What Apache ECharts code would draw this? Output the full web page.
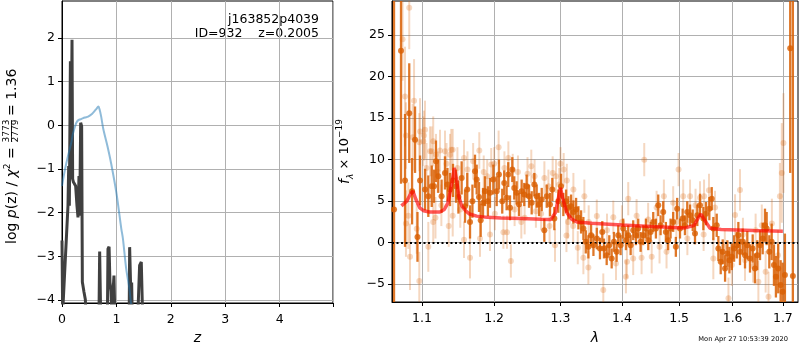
<!DOCTYPE html>
<html>
<head>
<meta charset="utf-8">
<script src="https://cdn.jsdelivr.net/npm/echarts@6.0.0/dist/echarts.min.js"></script>
<style>
  html, body { margin: 0; padding: 0; background: #fff; }
  #chart { width: 800px; height: 350px; }
</style>
</head>
<body>
<div id="chart"></div>
<script>
// ---- left panel: log p(z) (dark) and chi2 curve (blue)
const pzZ = [0.0, 0.012, 0.02, 0.11, 0.123, 0.135, 0.154, 0.165, 0.184, 0.196, 0.21, 0.251, 0.275, 0.294, 0.312, 0.325, 0.343, 0.361, 0.374, 0.404, 0.429, 0.44, 0.68, 0.692, 0.71, 0.835, 0.845, 0.865, 0.881, 0.9, 0.915, 0.955, 0.97, 1.235, 1.243, 1.261, 1.28, 1.29, 1.395, 1.426, 1.457, 1.48, 4.98]
const pzLog = [-2.64, -4.3, -4.3, -1.84, -0.93, -1.84, 1.47, -1.23, 1.96, -1.23, -1.3, -1.39, -1.84, -2.11, -1.16, -2.07, 0.06, -0.02, -3.59, -3.82, -3.99, -4.3, -4.3, -2.89, -4.3, -4.3, -2.83, -2.78, -3.59, -3.8, -4.3, -3.44, -4.3, -4.3, -2.79, -3.67, -3.6, -4.3, -4.3, -3.21, -3.13, -4.3, -4.3]
const chiZ = [0, 0.05, 0.11, 0.17, 0.2, 0.26, 0.3, 0.36, 0.42, 0.48, 0.55, 0.62, 0.67, 0.69, 0.72, 0.76, 0.84, 0.906, 1.0, 1.09, 1.12, 1.18, 1.24, 1.26, 1.3]
const chiLog = [-1.39, -1.04, -0.7, -0.4, -0.2, 0.05, 0.12, 0.15, 0.18, 0.2, 0.26, 0.36, 0.43, 0.37, 0.2, -0.09, -0.5, -0.89, -1.55, -2.37, -2.6, -3.29, -3.75, -4.0, -4.4]

const zTicks = [0, 1, 2, 3, 4]
const pzTicks = [-4, -3, -2, -1, 0, 1, 2]

// ---- right panel: spectrum (lambda in micron, flux in 1e-19)
const darkLam = [1.0635, 1.0725, 1.0777, 1.0832, 1.0869, 1.0908, 1.0940, 1.0974, 1.1040, 1.1084, 1.1130, 1.1160, 1.1187, 1.1218, 1.1263, 1.1309, 1.1343, 1.1378, 1.1419, 1.1460, 1.1494, 1.1539, 1.1586, 1.1617, 1.1656, 1.1690, 1.1726, 1.1750, 1.1783, 1.1807, 1.1840, 1.1868, 1.1910, 1.1940, 1.1988, 1.2037, 1.2070, 1.2118, 1.2147, 1.2182, 1.2206, 1.2232, 1.2266, 1.2295, 1.2330, 1.2365, 1.2405, 1.2444, 1.2480, 1.2516, 1.2556, 1.2596, 1.2632, 1.2668, 1.2709, 1.2749, 1.2786, 1.2837, 1.2873, 1.2904, 1.2966, 1.3009, 1.3045, 1.3088, 1.3124, 1.3167, 1.3204, 1.3247, 1.3284, 1.3327, 1.3364, 1.3403, 1.3445, 1.3489, 1.3527, 1.3582, 1.3634, 1.3672, 1.3700, 1.3745, 1.3788, 1.3828, 1.3866, 1.3911, 1.3938, 1.3978, 1.4022, 1.4068, 1.4107, 1.4148, 1.4192, 1.4239, 1.4278, 1.4319, 1.4365, 1.4411, 1.4452, 1.4493, 1.4539, 1.4586, 1.4627, 1.4669, 1.4715, 1.4762, 1.4803, 1.4846, 1.4893, 1.4941, 1.4965, 1.5016, 1.5064, 1.5106, 1.5148, 1.5199, 1.5248, 1.5290, 1.5333, 1.5383, 1.5445, 1.5495, 1.5557, 1.5602, 1.5632, 1.5696, 1.5727, 1.5772, 1.5810, 1.5855, 1.5899, 1.5938, 1.5984, 1.6028, 1.6080, 1.6111, 1.6143, 1.6196, 1.6241, 1.6286, 1.6339, 1.6392, 1.6437, 1.6483, 1.6538, 1.6591, 1.6637, 1.6671, 1.6724, 1.6771, 1.6818, 1.6858, 1.6905, 1.6954, 1.6995, 1.7042, 1.7151, 1.7206]
const darkFlux = [4.0, 23.1, 7.5, 15.6, 6.2, 12.4, 0.7, 7.5, 6.4, 5.6, 6.8, 6.8, 9.8, 8.0, 5.6, 8.4, 7.0, 6.4, 7.5, 6.8, 5.5, 7.8, 4.4, 6.4, 2.5, 5.0, 8.6, 7.6, 5.5, 2.7, 4.8, 6.2, 5.0, 6.0, 7.6, 6.2, 8.2, 5.0, 7.2, 5.4, 8.2, 4.2, 8.8, 6.6, 6.0, 4.6, 6.2, 5.8, 6.8, 5.6, 4.8, 7.0, 5.6, 4.6, 5.2, 1.5, 5.6, 4.6, 6.4, 2.9, 5.0, 6.8, 4.6, 5.0, 4.2, 4.4, 3.7, 4.0, 3.0, 2.5, 1.7, 0.1, -0.5, 0.9, -0.3, 0.5, -0.7, 1.3, -0.7, -1.5, -0.3, -1.9, 0.1, -1.1, 0.9, -0.3, 1.7, 0.3, 0.9, -0.3, 1.5, 0.9, 1.7, 0.1, 0.9, 1.7, 0.3, 1.3, 2.5, 1.7, 4.5, 2.1, 3.7, 1.3, 0.3, 1.7, 2.5, -0.5, 4.1, 1.7, 2.9, 2.1, 3.7, 3.3, 2.7, 1.1, 3.3, 4.5, 2.9, 3.5, 4.1, 5.3, 1.7, 2.1, -0.7, -2.3, -1.1, -3.1, -1.3, -2.1, -1.7, -0.7, -0.3, 0.9, -1.1, 0.1, -1.5, -0.3, -1.9, -0.7, -3.1, -1.5, -0.3, 0.5, 2.1, 1.7, -1.1, 0.1, -2.7, -4.1, -3.1, -5.1, -5.9, -3.9, 23.4, -4.0]
const darkErr = [40, 16, 8, 6, 4, 4, 3, 3, 2.5, 2.5, 2.5, 2, 2.5, 2, 2, 2, 2, 2, 2, 2, 2, 2, 2, 2, 2, 2, 2, 1.8, 1.8, 2, 1.8, 1.8, 1.8, 1.8, 1.8, 1.8, 1.8, 1.5, 1.5, 1.5, 1.5, 1.5, 1.5, 1.4, 1.4, 1.4, 1.4, 1.4, 1.4, 1.4, 1.4, 1.4, 1.4, 1.4, 1.4, 1.4, 1.4, 1.4, 1.4, 1.4, 1.4, 1.5, 1.4, 1.4, 1.4, 1.4, 1.4, 1.4, 1.4, 1.4, 1.4, 1.4, 1.4, 1.3, 1.3, 1.3, 1.3, 1.3, 1.2, 1.2, 1.2, 1.2, 1.2, 1.2, 1.2, 1.2, 1.2, 1.2, 1.2, 1.2, 1.2, 1.2, 1.2, 1.2, 1.2, 1.2, 1.2, 1.2, 1.2, 1.2, 1.3, 1.2, 1.3, 1.2, 1.2, 1.2, 1.2, 1.2, 1.3, 1.2, 1.2, 1.2, 1.3, 1.3, 1.3, 1.3, 1.3, 1.4, 1.4, 1.4, 1.4, 1.4, 1.4, 1.4, 1.5, 1.5, 1.5, 1.6, 1.6, 1.6, 1.6, 1.6, 1.6, 1.6, 1.6, 1.6, 1.6, 1.7, 1.7, 1.7, 1.8, 1.8, 1.8, 1.9, 2, 2, 2, 2.2, 2.5, 2.5, 3, 3, 3.5, 5, 15, 40]

const lightLam = [1.0745, 1.0777, 1.0832, 1.0895, 1.0789, 1.0877, 1.0974, 1.0964, 1.1040, 1.1026, 1.1107, 1.1150, 1.1187, 1.1241, 1.1309, 1.1378, 1.1415, 1.1572, 1.1787, 1.1958, 1.2065, 1.2208, 1.2272, 1.2493, 1.2878, 1.2930, 1.4382, 1.4990, 1.7012, 1.6978, 1.0789, 1.0820, 1.0842, 1.0964, 1.0930, 1.1084, 1.1150, 1.1415, 1.1572, 1.1656, 1.1797, 1.1940, 1.2135, 1.2187, 1.2245, 1.2812, 1.2914, 1.3094, 1.3204, 1.3274, 1.3364, 1.3380, 1.3445, 1.3582, 1.3689, 1.3855, 1.4068, 1.4085, 1.4107, 1.4192, 1.4250, 1.4336, 1.4512, 1.4598, 1.4727, 1.4774, 1.4893, 1.5074, 1.5199, 1.5383, 1.5458, 1.5632, 1.5664, 1.5920, 1.5984, 1.6047, 1.6143, 1.6241, 1.6505, 1.6573, 1.6708, 1.6776, 1.6939, 1.1850, 1.2300, 1.2450, 1.2600, 1.2700, 1.3000, 1.3100, 1.3200, 1.3450, 1.3750, 1.3900, 1.4000, 1.4450, 1.4650, 1.4950, 1.5150, 1.5300, 1.5450, 1.5550, 1.5850, 1.6200, 1.6400, 1.6450, 1.6650, 1.6900, 1.1017, 1.1129, 1.1395, 1.1060, 1.1210, 1.1330, 1.1480, 1.1620, 1.1700, 1.1900, 1.2000, 1.2150, 1.2350, 1.2550, 1.2750, 1.2980, 1.3050, 1.1180, 1.1260, 1.1360, 1.1520, 1.2010, 1.2400, 1.2620, 1.2830, 1.3120]
const lightFlux = [24.5, 17.6, 28.3, 17.1, 12.9, 12.7, 13.4, 12.1, 13.6, 12.9, 11.0, 12.2, 10.6, 11.1, 11.0, 10.6, 11.2, 10.2, 11.1, 9.4, 11.5, 10.2, 8.7, 8.3, 8.4, 8.0, 10.0, 8.8, 12.0, 8.4, 2.3, 3.25, -1.7, -4.6, 1.67, -0.5, 2.5, 3.25, 0.36, -1.8, 0.5, 1.0, 1.27, 1.27, -2.2, 6.8, -0.3, 0.87, 6.4, -0.6, -1.8, 5.6, -3.0, 3.2, -5.7, 3.06, -4.1, -2.3, 5.3, -1.9, 3.25, -1.8, -1.7, 4.25, 5.6, -1.1, 4.8, 5.6, 5.6, 5.4, 5.6, -1.9, 4.25, -6.7, -2.7, 3.33, 6.35, -2.1, -4.7, 2.1, -6.5, 2.3, 5.6, 8.5, 4.0, 3.0, 8.0, 3.5, 9.5, 7.5, 2.0, 2.5, 1.5, -2.5, 2.5, 2.8, -0.5, 2.5, 0.5, 4.5, 1.0, 6.3, -0.5, 1.0, -2.8, 1.5, -3.5, -1.5, 12.2, 11.0, 11.2, 9.0, 8.5, 9.5, 9.0, 8.8, 9.8, 8.0, 9.5, 9.0, 8.5, 9.2, 7.8, 7.0, 8.8, 3.0, 4.5, 2.0, 4.0, 3.5, 2.5, 3.8, 2.0, 2.5]
const lightErr = [5, 6, 5, 5, 4, 4, 4, 3.5, 3.5, 3, 3, 3, 2.5, 2.5, 2.5, 2.5, 2.5, 2.2, 2.2, 2, 2, 2, 2, 2, 2, 2, 2, 2, 6, 6, 4, 4, 4, 3.5, 3, 3, 2.5, 2.5, 2.2, 2.5, 2.2, 2, 2, 2, 2, 2, 2, 2, 2, 2, 2, 2, 2, 2, 2, 2, 2, 2, 2, 2, 2, 2, 2, 2, 2, 2, 2, 2, 2, 2, 2, 2.5, 2, 2.5, 2.5, 2.5, 2.5, 2.5, 2.5, 2.5, 3, 3, 4, 2, 2, 2, 2, 2, 2, 2, 2, 2, 2, 2, 2, 2, 2, 2, 2, 2, 2, 2, 2, 2, 2, 2, 2.5, 3, 3, 3, 2.5, 3, 2.5, 2.5, 2.5, 2.2, 2.2, 2, 2, 2, 2, 2, 2, 2, 2, 2.5, 2.5, 2.5, 2.2, 2, 2, 2, 2, 2]

const modelLam = [1.073, 1.080, 1.085, 1.088, 1.092, 1.097, 1.102, 1.110, 1.124, 1.130, 1.135, 1.140, 1.1437, 1.147, 1.150, 1.154, 1.160, 1.165, 1.175, 1.19, 1.21, 1.24, 1.27, 1.285, 1.292, 1.297, 1.300, 1.304, 1.31, 1.318, 1.326, 1.35, 1.40, 1.45, 1.51, 1.527, 1.535, 1.54, 1.546, 1.557, 1.578, 1.64, 1.70]
const modelFlux = [4.44, 5.0, 5.9, 6.2, 5.2, 4.2, 3.85, 3.7, 3.7, 4.0, 4.8, 7.0, 9.0, 7.5, 5.5, 4.44, 3.8, 3.45, 3.2, 3.05, 2.98, 2.9, 2.82, 2.8, 3.6, 5.5, 6.6, 5.2, 3.6, 2.8, 2.5, 2.35, 2.14, 1.95, 1.78, 2.06, 3.0, 3.45, 2.8, 1.75, 1.6, 1.48, 1.39]

const lamTicks = [1.1, 1.2, 1.3, 1.4, 1.5, 1.6, 1.7]
const fluxTicks = [-5, 0, 5, 10, 15, 20, 25]

const LAM_MIN = 1.0609, LAM_MAX = 1.7313
const F_MIN = -7.14, F_MAX = 29.1
const ORANGE = '#d95f02'
const FONT = 'DejaVu Sans'

const minus = (v) => (v < 0 ? '\u2212' + Math.abs(v) : String(v))

// x of the spectrum is drawn on ln(lambda)
const toPts = (lam, f, e) => lam.map((l, i) => [Math.log(l), f[i], e[i]])

const errBars = (color, width) => (params, api) => {
  const x = api.value(0)
  const y = api.value(1)
  const e = api.value(2)
  const lo = Math.max(y - e, F_MIN)
  const hi = Math.min(y + e, F_MAX)
  const p1 = api.coord([x, lo])
  const p2 = api.coord([x, hi])
  return {
    type: 'line',
    shape: { x1: p1[0], y1: p1[1], x2: p2[0], y2: p2[1] },
    style: { stroke: color, lineWidth: width },
  }
}

const gridLine = { show: true, lineStyle: { color: '#b0b0b0', width: 1 } }
const tickStyle = { show: true, length: 4, lineStyle: { color: '#000', width: 1 } }
const labelStyle = { color: '#000', fontSize: 12.5, fontFamily: FONT }

const chart = echarts.init(document.getElementById('chart'))

const option = {
  animation: false,
  textStyle: { fontFamily: FONT },
  grid: [
    { left: 62, top: 1, width: 271, height: 303, show: true, borderColor: '#000', borderWidth: 1 },
    { left: 392, top: 1, width: 406, height: 303, show: true, borderColor: '#000', borderWidth: 1 },
  ],
  xAxis: [
    {
      type: 'value', gridIndex: 0, min: 0, max: 4.98, interval: 1,
      axisLine: { show: true, onZero: false, lineStyle: { color: '#000' } },
      axisTick: tickStyle,
      axisLabel: { ...labelStyle, margin: 10, customValues: zTicks, formatter: minus },
      splitLine: gridLine,
      name: 'z', nameLocation: 'middle', nameGap: 28,
      nameTextStyle: { fontSize: 14, fontStyle: 'italic', color: '#000' },
    },
    {
      type: 'value', gridIndex: 1, min: Math.log(LAM_MIN), max: Math.log(LAM_MAX),
      axisLine: { show: true, onZero: false, lineStyle: { color: '#000' } },
      axisTick: { ...tickStyle, customValues: lamTicks.map(Math.log) },
      axisLabel: {
        ...labelStyle, margin: 10,
        customValues: lamTicks.map(Math.log),
        formatter: (v) => Math.exp(v).toFixed(1),
      },
      splitLine: gridLine,
      name: 'λ', nameLocation: 'middle', nameGap: 29,
      nameTextStyle: { fontSize: 14, fontStyle: 'italic', color: '#000' },
    },
  ],
  yAxis: [
    {
      type: 'value', gridIndex: 0, min: -4.07, max: 2.85,
      axisLine: { show: true, onZero: false, lineStyle: { color: '#000' } },
      axisTick: { ...tickStyle, customValues: pzTicks },
      axisLabel: { ...labelStyle, margin: 7, customValues: pzTicks, formatter: minus },
      splitLine: gridLine,
    },
    {
      type: 'value', gridIndex: 1, min: F_MIN, max: F_MAX,
      axisLine: { show: true, onZero: false, lineStyle: { color: '#000' } },
      axisTick: { ...tickStyle, customValues: fluxTicks },
      axisLabel: { ...labelStyle, margin: 7, customValues: fluxTicks, formatter: minus },
      splitLine: gridLine,
      name: '{f|f}{s|λ}{n| × 10}{p|−19}',
      nameLocation: 'middle', nameRotate: 90, nameGap: 37,
      nameTextStyle: {
        color: '#000',
        rich: {
          f: { fontSize: 14, fontStyle: 'italic', lineHeight: 20, verticalAlign: 'middle' },
          s: { fontSize: 9, fontStyle: 'italic', lineHeight: 20, verticalAlign: 'bottom' },
          n: { fontSize: 13, lineHeight: 20, verticalAlign: 'middle' },
          p: { fontSize: 9, lineHeight: 20, verticalAlign: 'top' },
        },
      },
    },
  ],
  series: [
    {
      type: 'line', xAxisIndex: 0, yAxisIndex: 0, showSymbol: false, smooth: 0.3,
      data: chiZ.map((z, i) => [z, chiLog[i]]),
      lineStyle: { color: 'rgba(31,119,180,0.5)', width: 2 },
      z: 3,
    },
    {
      type: 'line', xAxisIndex: 0, yAxisIndex: 0, showSymbol: false,
      data: pzZ.map((z, i) => [z, pzLog[i]]),
      lineStyle: { color: '#404040', width: 3 },
      z: 2,
    },
    {
      type: 'custom', xAxisIndex: 1, yAxisIndex: 1,
      renderItem: errBars('rgba(217,95,2,0.25)', 2),
      encode: { x: 0, y: 1 },
      data: toPts(lightLam, lightFlux, lightErr),
      z: 2,
    },
    {
      type: 'scatter', xAxisIndex: 1, yAxisIndex: 1, symbolSize: 6,
      data: toPts(lightLam, lightFlux, lightErr),
      itemStyle: { color: 'rgba(217,95,2,0.3)' },
      z: 3,
    },
    {
      type: 'custom', xAxisIndex: 1, yAxisIndex: 1,
      renderItem: errBars('rgba(217,95,2,0.85)', 2.3),
      encode: { x: 0, y: 1 },
      data: toPts(darkLam, darkFlux, darkErr),
      z: 4,
    },
    {
      type: 'scatter', xAxisIndex: 1, yAxisIndex: 1, symbolSize: 6,
      data: toPts(darkLam, darkFlux, darkErr),
      itemStyle: { color: ORANGE },
      z: 5,
    },
    {
      type: 'line', xAxisIndex: 1, yAxisIndex: 1, showSymbol: false,
      data: modelLam.map((l, i) => [Math.log(l), modelFlux[i]]),
      lineStyle: { color: 'rgba(255,0,0,0.65)', width: 3.5 },
      z: 6,
      markLine: {
        silent: true, symbol: 'none', label: { show: false },
        lineStyle: { color: '#000', type: [2, 2.5], width: 1.8 },
        data: [{ yAxis: 0 }],
      },
    },
  ],
  graphic: [
    {
      type: 'text', right: 481, top: 13,
      style: { text: 'j163852p4039', fontSize: 12.5, fontFamily: FONT, fill: '#000' },
    },
    {
      type: 'text', right: 481, top: 27,
      style: { text: 'ID=932    z=0.2005', fontSize: 12.5, fontFamily: FONT, fill: '#000' },
    },
    {
      type: 'text', right: 12, top: 336,
      style: { text: 'Mon Apr 27 10:53:39 2020', fontSize: 6.7, fontFamily: FONT, fill: '#000' },
    },
    {
      type: 'group', x: 12, y: 244, rotation: Math.PI / 2,
      children: [
        {
          type: 'text', x: 0, y: 0,
          style: {
            text: '{n|log }{i|p}{n|(z) / }{i|χ}{s|2}{n| =}',
            align: 'left', verticalAlign: 'middle', fill: '#000',
            rich: {
              n: { fontSize: 14, fontFamily: FONT, lineHeight: 18, verticalAlign: 'middle' },
              i: { fontSize: 14, fontFamily: FONT, fontStyle: 'italic', lineHeight: 18, verticalAlign: 'middle' },
              s: { fontSize: 9, fontFamily: FONT, lineHeight: 18, verticalAlign: 'top' },
            },
          },
        },
        {
          type: 'text', x: 113, y: -5,
          style: { text: '3773', fontSize: 9, fontFamily: FONT, align: 'center', verticalAlign: 'middle', fill: '#000' },
        },
        {
          type: 'line', shape: { x1: 102, y1: -0.5, x2: 124, y2: -0.5 },
          style: { stroke: '#000', lineWidth: 0.8 },
        },
        {
          type: 'text', x: 113, y: 4,
          style: { text: '2779', fontSize: 9, fontFamily: FONT, align: 'center', verticalAlign: 'middle', fill: '#000' },
        },
        {
          type: 'text', x: 128, y: 0,
          style: { text: '= 1.36', fontSize: 14, fontFamily: FONT, align: 'left', verticalAlign: 'middle', fill: '#000' },
        },
      ],
    },
  ],
}

chart.setOption(option)
</script>
</body>
</html>
